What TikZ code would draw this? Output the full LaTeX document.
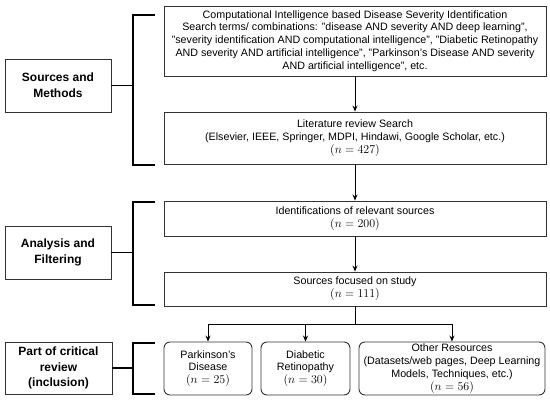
\documentclass[tikz,border=0pt]{standalone}
\usepackage{fontspec}
\setmainfont{Liberation Sans}
\usetikzlibrary{arrows.meta}
\newcommand\nval[1]{{\fontsize{11.5}{12.8}\selectfont$(n=#1)$}}
\begin{document}
\begin{tikzpicture}[x=1pt,y=-1pt,
  box/.style={draw=black!80,line width=0.9pt,inner sep=0pt,align=center,
    font=\fontsize{10.7}{12.8}\selectfont},
  lab/.style={box,font=\fontsize{12}{15.8}\selectfont\bfseries,minimum width=106,minimum height=53},
  wide/.style={box,minimum width=382},
  rbox/.style={box,rounded corners=6pt,minimum height=53},
  brk/.style={draw=black,line width=1.6pt},
  arr/.style={draw=black,line width=0.9pt,-{Stealth[length=6pt,width=5pt]}}]
\useasboundingbox[fill=white] (0,0) rectangle (550,401);
% left labels
\node[lab] (src) at (58,85.5) {Sources and\\Methods};
\node[lab] (ana) at (58,252.5) {Analysis and\\Filtering};
\node[lab,minimum width=107,minimum height=52] (part) at (58.5,368) {Part of critical\\review\\(inclusion)};
% main boxes
\node[wide,minimum height=70] (top) at (355,41) {Computational Intelligence based Disease Severity Identification\\
Search terms/ combinations: "disease AND severity AND deep learning",\\
"severity identification AND computational intelligence", "Diabetic Retinopathy\\
AND severity AND artificial intelligence", "Parkinson's Disease AND severity\\
AND artificial intelligence", etc.};
\node[wide,minimum height=52] (lit) at (355,138) {Literature review Search\\(Elsevier, IEEE, Springer, MDPI, Hindawi, Google Scholar, etc.)\\\nval{427}};
\node[wide,minimum height=35] (ident) at (355,218.5) {Identifications of relevant sources\\\nval{200}};
\node[wide,minimum height=34] (focus) at (355,289) {Sources focused on study\\\nval{111}};
\node[rbox,minimum width=88] (pd) at (208,368.5) {Parkinson's\\Disease\\\nval{25}};
\node[rbox,minimum width=89] (dr) at (305.5,368.5) {Diabetic\\Retinopathy\\\nval{30}};
\node[rbox,minimum width=186] (oth) at (452,368.5) {Other Resources\\(Datasets/web pages, Deep Learning\\Models, Techniques, etc.)\\\nval{56}};
% brackets
\coordinate (b1a) at (155,15); \coordinate (b1b) at (133,15);
\coordinate (b1c) at (133,165); \coordinate (b1d) at (155,165);
\coordinate (b1m) at (133,85.5);
\coordinate (b2a) at (155,202); \coordinate (b2b) at (133,202);
\coordinate (b2c) at (133,305); \coordinate (b2d) at (155,305);
\coordinate (b2m) at (133,252.5);
\coordinate (b3a) at (155,343); \coordinate (b3b) at (133,343);
\coordinate (b3c) at (133,394); \coordinate (b3d) at (155,394);
\coordinate (b3m) at (133,368);
\draw[brk] (b1a) -- (b1b) -- (b1c) -- (b1d);
\draw[brk] (b2a) -- (b2b) -- (b2c) -- (b2d);
\draw[brk] (b3a) -- (b3b) -- (b3c) -- (b3d);
\draw[brk] (src.east) -- (b1m);
\draw[brk] (ana.east) -- (b2m);
\draw[brk] (part.east) -- (b3m);
% arrows
\draw[arr] (top.south) -- (lit.north);
\draw[arr] (lit.south) -- (ident.north);
\draw[arr] (ident.south) -- (focus.north);
\coordinate (j) at (355,324);
\draw[line width=0.9pt] (focus.south) -- (j);
\draw[arr] (j) -| (pd.north);
\draw[arr] (j) -| (dr.north);
\draw[arr] (j) -| (oth.north);
\end{tikzpicture}
\end{document}
